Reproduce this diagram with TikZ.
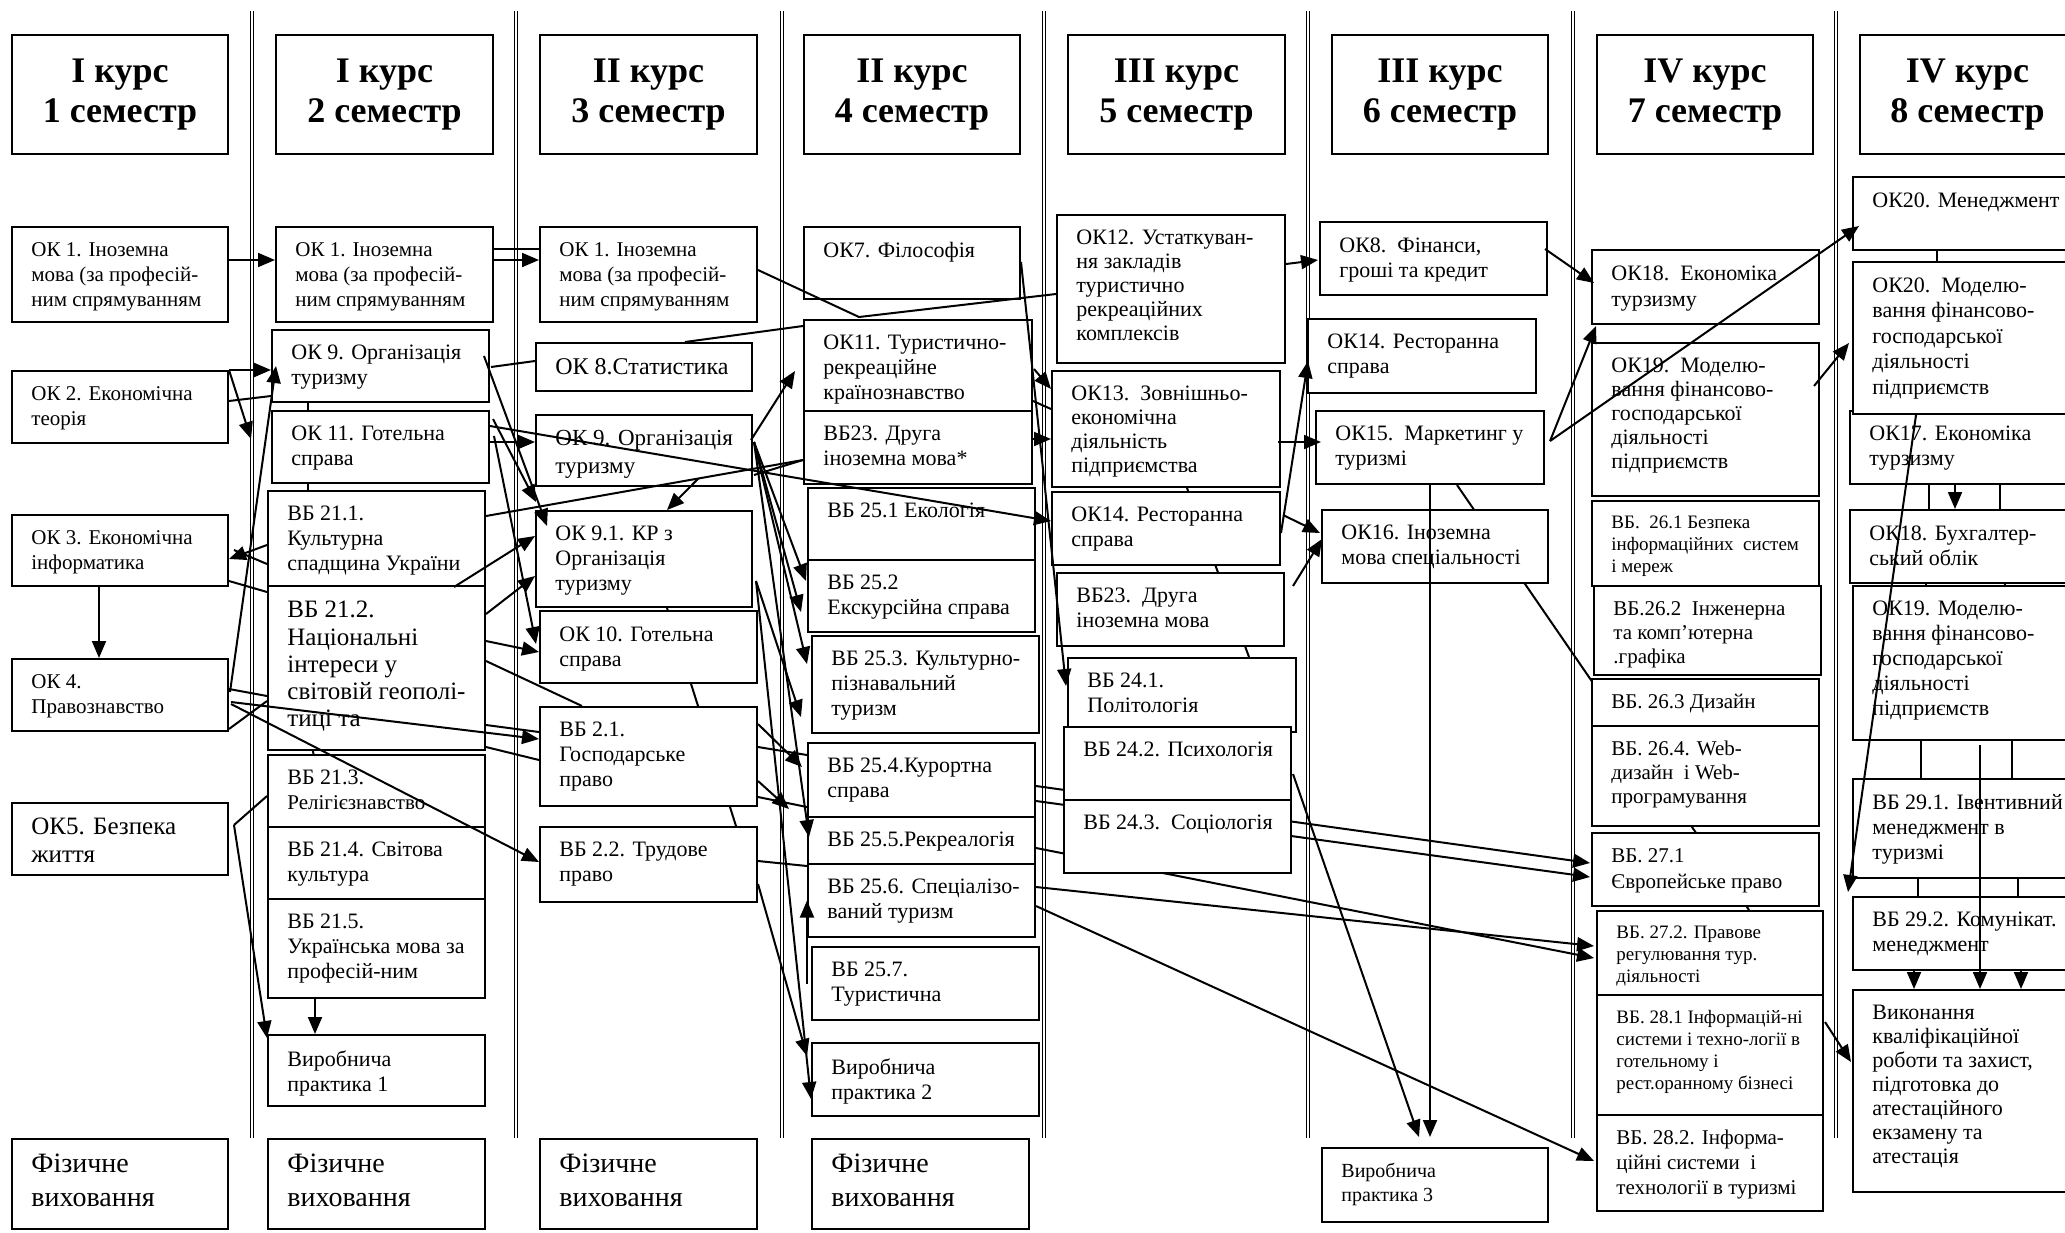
\documentclass[tikz,border=0pt]{standalone}
\usepackage{fontspec}
\setmainfont{Liberation Serif}
\usetikzlibrary{arrows.meta,fit,backgrounds}
\tikzset{
    box/.style = {
        draw,
        fill = white,
        line width = 1pt,
        inner sep = 0pt,
        },
    lbl/.style = {
        anchor = north west,
        inner sep = 0pt,
        align = left,
        font = \fontsize{11}{12.5}\selectfont,
        },
    hdr/.style = {
        align = center,
        inner sep = 0pt,
        font = \bfseries\fontsize{18}{20}\selectfont,
        },
    smalltxt/.style = {
        font = \fontsize{9.5}{11}\selectfont,
        },
    bigtxt/.style = {
        font = \fontsize{14}{17}\selectfont,
        },
    link/.style = {
        line width = 1pt,
        },
    arr/.style = {
        line width = 1pt,
        -{Triangle[length=8.5pt,width=7pt]},
        },
    divider/.style = {
        double,
        line width = 0.5pt,
        double distance = 0.8pt,
        },
}
\newcommand{\subjbox}[7]{%
    \node[box, fit={(#2,#3) (#4,#5)}] (#1) {};
    \node[lbl, #6] (#1-t) at ([shift={(20,16)}]#1.north west) {#7};
}
\newcommand{\headbox}[6]{%
    \node[box, fit={(#2,#3) (#4,#5)}] (#1) {};
    \node[hdr] (#1-t) at (#1.center) {#6};
}

\begin{document}
\begin{tikzpicture}[x=0.5pt, y=-0.5pt]
    \path[use as bounding box] (0,0) rectangle (2065,1232);

    \headbox{hd1}{12}{35}{228}{154}{I курс\\1 семестр}
    \headbox{hd2}{276}{35}{493}{154}{I курс\\2 семестр}
    \headbox{hd3}{540}{35}{757}{154}{II курс\\3 семестр}
    \headbox{hd4}{804}{35}{1020}{154}{II курс\\4 семестр}
    \headbox{hd5}{1068}{35}{1285}{154}{III курс\\5 семестр}
    \headbox{hd6}{1332}{35}{1548}{154}{III курс\\6 семестр}
    \headbox{hd7}{1597}{35}{1813}{154}{IV курс\\7 семестр}
    \headbox{hd8}{1860}{35}{2075}{154}{IV курс\\8 семестр}

    % 1 семестр
    \subjbox{c1ok1}{12}{227}{228}{322}{font=\fontsize{10.5}{12.5}\selectfont}{ОК 1. Іноземна\\мова (за професій-\\ним спрямуванням}
    \subjbox{c1ok2}{12}{371}{228}{443}{font=\fontsize{10.5}{12.5}\selectfont}{ОК 2. Економічна\\теорія}
    \subjbox{c1ok3}{12}{515}{228}{586}{font=\fontsize{10.5}{12.5}\selectfont}{ОК 3. Економічна\\інформатика}
    \subjbox{c1ok4}{12}{659}{228}{731}{font=\fontsize{10.5}{12.5}\selectfont}{ОК 4.\\{\fontsize{10.5}{12}\selectfont Правознавство}}
    \subjbox{c1ok5}{12}{803}{228}{875}{font=\fontsize{12.5}{14}\selectfont}{ОК5. Безпека\\життя}
    \subjbox{c1fz}{12}{1139}{228}{1229}{bigtxt}{Фізичне\\виховання}

    % 2 семестр
    \subjbox{c2ok1}{276}{227}{493}{322}{font=\fontsize{10.5}{12.5}\selectfont}{ОК 1. Іноземна\\мова (за професій-\\ним спрямуванням}
    \subjbox{c2ok9}{272}{330}{489}{402}{}{ОК 9. Організація\\туризму}
    \subjbox{c2ok11}{272}{411}{489}{483}{}{ОК 11. Готельна\\справа}
    \subjbox{c2v211}{268}{491}{485}{586}{}{ВБ 21.1.\\Культурна\\спадщина України}
    \subjbox{c2v212}{268}{586}{485}{750}{font=\fontsize{12.5}{13.6}\selectfont}{ВБ 21.2.\\Національні\\інтереси у\\світовій геополі-\\тиці та}
    \subjbox{c2v213}{268}{755}{485}{827}{}{ВБ 21.3.\\{\fontsize{10.5}{12}\selectfont Релігієзнавство}}
    \subjbox{c2v214}{268}{827}{485}{899}{}{ВБ 21.4. Світова\\культура}
    \subjbox{c2v215}{268}{899}{485}{998}{}{ВБ 21.5.\\Українська мова за\\професій-ним}
    \subjbox{c2vp1}{268}{1035}{485}{1106}{}{Виробнича\\практика 1}
    \subjbox{c2fz}{268}{1139}{485}{1229}{bigtxt}{Фізичне\\виховання}

    % 3 семестр
    \subjbox{c3ok1}{540}{227}{757}{322}{font=\fontsize{10.5}{12.5}\selectfont}{ОК 1. Іноземна\\мова (за професій-\\ним спрямуванням}
    \subjbox{c3ok8}{536}{343}{752}{391}{font=\fontsize{12}{14}\selectfont}{ОК 8.Статистика}
    \subjbox{c3ok9}{536}{415}{752}{486}{font=\fontsize{11.5}{14}\selectfont}{ОК 9. Організація\\туризму}
    \subjbox{c3ok91}{536}{511}{752}{607}{}{ОК 9.1. КР з\\Організація\\туризму}
    \subjbox{c3ok10}{540}{611}{757}{683}{}{ОК 10. Готельна\\справа}
    \subjbox{c3v21}{540}{707}{757}{806}{}{ВБ 2.1.\\Господарське\\право}
    \subjbox{c3v22}{540}{827}{757}{902}{}{ВБ 2.2. Трудове\\право}
    \subjbox{c3fz}{540}{1139}{757}{1229}{bigtxt}{Фізичне\\виховання}

    % 4 семестр
    \subjbox{c4ok7}{804}{227}{1020}{299}{}{ОК7. Філософія}
    \subjbox{c4ok11}{804}{320}{1032}{411}{}{ОК11. Туристично-\\рекреаційне\\країнознавство}
    \subjbox{c4v23}{804}{411}{1032}{484}{}{ВБ23. Друга\\іноземна мова*}
    \subjbox{c4v251}{808}{488}{1035}{560}{}{ВБ 25.1 Екологія}
    \subjbox{c4v252}{808}{560}{1035}{632}{}{ВБ 25.2\\Екскурсійна справа}
    \subjbox{c4v253}{812}{636}{1039}{733}{}{ВБ 25.3. Культурно-\\пізнавальний\\туризм}
    \subjbox{c4v254}{808}{743}{1035}{817}{}{ВБ 25.4.Курортна\\справа}
    \subjbox{c4v255}{808}{817}{1035}{864}{}{ВБ 25.5.Рекреалогія}
    \subjbox{c4v256}{808}{864}{1035}{937}{}{ВБ 25.6. Спеціалізо-\\ваний туризм}
    \subjbox{c4v257}{812}{947}{1039}{1020}{}{ВБ 25.7.\\Туристична}
    \subjbox{c4vp2}{812}{1043}{1039}{1116}{}{Виробнича\\практика 2}
    \subjbox{c4fz}{812}{1139}{1029}{1229}{bigtxt}{Фізичне\\виховання}

    % 5 семестр
    \subjbox{c5ok12}{1057}{215}{1285}{363}{font=\fontsize{11}{12}\selectfont}{ОК12. Устаткуван-\\ня закладів\\туристично\\рекреаційних\\комплексів}
    \subjbox{c5ok13}{1052}{371}{1280}{487}{font=\fontsize{11}{12}\selectfont}{ОК13.\ \ Зовнішньо-\\економічна\\діяльність\\підприємства}
    \subjbox{c5ok14}{1052}{492}{1280}{565}{}{ОК14. Ресторанна\\справа}
    \subjbox{c5v23}{1057}{573}{1284}{646}{}{ВБ23.\ \ Друга\\іноземна мова}
    \subjbox{c5v241}{1068}{658}{1296}{732}{}{ВБ 24.1.\\Політологія}
    \subjbox{c5v242}{1064}{727}{1291}{800}{}{ВБ 24.2. Психологія}
    \subjbox{c5v243}{1064}{800}{1291}{873}{}{ВБ 24.3.\ \ Соціологія}

    % 6 семестр
    \subjbox{c6ok8}{1320}{222}{1547}{295}{}{ОК8.\ \ Фінанси,\\гроші та кредит}
    \subjbox{c6ok14}{1308}{319}{1536}{393}{}{ОК14. Ресторанна\\справа}
    \subjbox{c6ok15}{1316}{411}{1544}{484}{}{ОК15.\ \ Маркетинг у\\туризмі}
    \subjbox{c6ok16}{1322}{510}{1548}{583}{}{ОК16. Іноземна\\мова спеціальності}
    \subjbox{c6vp3}{1322}{1148}{1548}{1222}{font=\fontsize{10}{12}\selectfont}{Виробнича\\практика 3}

    % 7 семестр
    \subjbox{c7ok18}{1592}{250}{1819}{324}{font=\fontsize{11}{13}\selectfont}{ОК18.\ \ Економіка\\турзизму}
    \subjbox{c7ok19}{1592}{343}{1819}{496}{font=\fontsize{11}{12}\selectfont}{ОК19.\ \ Моделю-\\вання фінансово-\\господарської\\діяльності\\підприємств}
    \subjbox{c7v261}{1592}{501}{1819}{586}{smalltxt}{ВБ.\ \ 26.1 Безпека\\інформаційних\ \ систем\\і мереж}
    \subjbox{c7v262}{1594}{586}{1821}{675}{font=\fontsize{10.5}{12}\selectfont}{ВБ.26.2\ \ Інженерна\\та комп’ютерна\\.графіка}
    \subjbox{c7v263}{1592}{679}{1819}{726}{font=\fontsize{10.5}{12}\selectfont}{ВБ. 26.3 Дизайн}
    \subjbox{c7v264}{1592}{726}{1819}{826}{font=\fontsize{10.5}{12}\selectfont}{ВБ. 26.4. Web-\\дизайн\ \ і Web-\\програмування}
    \subjbox{c7v271}{1592}{833}{1819}{906}{font=\fontsize{10.5}{13}\selectfont}{ВБ. 27.1\\Європейське право}
    \subjbox{c7v272}{1597}{911}{1823}{995}{smalltxt}{ВБ. 27.2. Правове\\регулювання тур.\\діяльності}
    \subjbox{c7v281}{1597}{995}{1823}{1115}{smalltxt}{ВБ. 28.1 Інформацій-ні\\системи і техно-логії в\\готельному і\\рест.оранному бізнесі}
    \subjbox{c7v282}{1597}{1115}{1823}{1211}{font=\fontsize{10.5}{12.5}\selectfont}{ВБ. 28.2. Інформа-\\ційні системи\ \ і\\технології в туризмі}

    % 8 семестр
    \subjbox{c8ok20a}{1853}{177}{2075}{250}{}{ОК20. Менеджмент}
    \subjbox{c8ok17}{1850}{411}{2075}{484}{}{ОК17. Економіка\\турзизму}
    \subjbox{c8ok20b}{1853}{262}{2075}{414}{font=\fontsize{11}{12.8}\selectfont}{ОК20.\ \ Моделю-\\вання фінансово-\\господарської\\діяльності\\підприємств}
    \subjbox{c8ok18}{1850}{510}{2075}{583}{}{ОК18. Бухгалтер-\\ський облік}
    \subjbox{c8ok19}{1853}{586}{2075}{740}{font=\fontsize{11}{12.5}\selectfont}{ОК19. Моделю-\\вання фінансово-\\господарської\\діяльності\\підприємств}
    \subjbox{c8v291}{1853}{779}{2075}{878}{}{ВБ 29.1. Івентивний\\менеджмент в\\туризмі}
    \subjbox{c8v292}{1853}{897}{2075}{970}{}{ВБ 29.2. Комунікат.\\менеджмент}
    \subjbox{c8fin}{1853}{990}{2075}{1192}{font=\fontsize{11}{12}\selectfont}{Виконання\\кваліфікаційної\\роботи та захист,\\підготовка до\\атестаційного\\екзамену та\\атестація}

    \begin{pgfonlayer}{background}
        \fill[white] (0,0) rectangle (2065,1232);
        \foreach \x in {252,516,782,1044,1308,1573,1836}
            \draw[divider] (\x,11) -- (\x,1138);
        \draw[link] ([shift={(37,-5)}]c2ok9.south west) -- ([shift={(41,10)}]c2v211.north west);
        \draw[link] ([shift={(45,-5)}]c2v212.south west) -- ([shift={(48,8)}]c2v213.north west);
        \draw[link] ([shift={(132,0)}]c3ok91.south west) -- ([shift={(197,0)}]c3v22.north west);
        \draw[link] ([shift={(136,0)}]c5ok13.south west) -- ([shift={(182,0)}]c5v241.north west);
        \draw[link] ([shift={(142,0)}]c6ok15.south west) -- ([shift={(153,0)}]c7v272.north west);
        \draw[arr] ([shift={(0,44)}]c4v254.north east) -- ([shift={(-1,31)}]c7v271.north west);
        \draw[arr] ([shift={(0,59)}]c4v254.north east) -- ([shift={(-1,45)}]c7v271.north west);
        \draw[arr] ([shift={(0,32)}]c4v255.north east) -- ([shift={(-2,48)}]c7v272.north west);
    \end{pgfonlayer}

    \coordinate (k5) at ([shift={(5,23)}]c1ok5.north east);
    \coordinate (f9) at ([shift={(1,28)}]c3ok9.north east);
    \coordinate (f91) at ([shift={(3,71)}]c3ok91.north east);
    \coordinate (q15) at ([shift={(5,31)}]c6ok15.north east);

    \draw[arr] ([shift={(0,34)}]c1ok1.north east) -- ([shift={(0,34)}]c2ok1.north west);
    \draw[link] ([shift={(0,23)}]c2ok1.north east) -- ([shift={(0,23)}]c3ok1.north west);
    \draw[arr] ([shift={(0,34)}]c2ok1.north east) -- ([shift={(0,34)}]c3ok1.north west);
    \draw[arr] (c1ok2.north east) -- (c2ok9.west |- c1ok2.north east);
    \draw[arr] (c1ok2.north east) -- ([shift={(-20,29)}]c2ok11.north west);
    \draw[link] ([shift={(0,31)}]c1ok2.north east) -- ([shift={(0,67)}]c2ok9.north west);
    \draw[arr] ([shift={(1,34)}]c1ok4.north east) -- ([shift={(5,37)}]c2ok9.north west);
    \draw[arr] ([shift={(0,55)}]c2v211.north west) -- ([shift={(0,45)}]c1ok3.north east);
    \draw[link] ([shift={(0,74)}]c2v211.north west) -- ([shift={(5,36)}]c1ok3.north east);
    \draw[link] ([shift={(0,67)}]c1ok3.north east) -- ([shift={(0,7)}]c2v212.north west);
    \draw[arr] ([shift={(-21,0)}]c1ok3.south) -- ([shift={(-21,0)}]c1ok4.north);
    \draw[link] ([shift={(0,31)}]c1ok4.north east) -- ([shift={(0,111)}]c2v212.north west);
    \draw[link] ([shift={(0,71)}]c1ok4.north east) -- ([shift={(0,116)}]c2v212.north west);
    \draw[arr] ([shift={(2,44)}]c1ok4.north east) -- ([shift={(0,33)}]c3v21.north west);
    \draw[arr] ([shift={(2,46)}]c1ok4.north east) -- ([shift={(0,36)}]c3v22.north west);
    \draw[link] (k5) -- ([shift={(0,42)}]c2v213.north west);
    \draw[arr] (k5) -- ([shift={(0,4)}]c2vp1.north west);
    \draw[arr] ([shift={(48,0)}]c2v215.south west) -- ([shift={(48,0)}]c2vp1.north west);

    \draw[link] ([shift={(1,38)}]c2ok9.north east) -- ([shift={(0,19)}]c3ok8.north west);
    \draw[link] ([shift={(150,0)}]c3ok8.north west) -- ([shift={(0,7)}]c4ok11.north west);
    \draw[arr] ([shift={(-6,27)}]c2ok9.north east) -- ([shift={(12,16)}]c3ok91.north west);
    \draw[arr] ([shift={(3,9)}]c2ok11.north east) -- ([shift={(1,-8)}]c3ok91.north west);
    \draw[arr] ([shift={(0,32)}]c2ok11.north east) -- ([shift={(0,28)}]c3ok9.north west);
    \draw[arr] ([shift={(4,26)}]c2ok11.north east) -- ([shift={(-3,34)}]c3ok10.north west);
    \draw[arr] ([shift={(0,16)}]c2ok11.north east) -- ([shift={(0,30)}]c5ok14.north west);
    \draw[link] ([shift={(0,26)}]c2v211.north east) -- coordinate[pos=0.67] (jn) ([shift={(0,50)}]c4v23.north west);
    \draw[arr] (jn) -- ([shift={(132,0)}]c3ok91.north west);
    \draw[arr] ([shift={(-32,0)}]c2v211.south east) -- ([shift={(0,26)}]c3ok91.north west);
    \draw[arr] ([shift={(0,29)}]c2v212.north east) -- ([shift={(0,66)}]c3ok91.north west);
    \draw[arr] ([shift={(0,56)}]c2v212.north east) -- ([shift={(0,42)}]c3ok10.north west);
    \draw[link] ([shift={(0,76)}]c2v212.north east) -- ([shift={(43,0)}]c3v21.north west);
    \draw[link] ([shift={(0,140)}]c2v212.north east) -- ([shift={(0,26)}]c3v21.north west);
    \draw[link] ([shift={(0,162)}]c2v212.north east) -- ([shift={(0,54)}]c3v21.north west);

    \draw[link] ([shift={(0,44)}]c3ok1.north east) -- ([shift={(56,-2)}]c4ok11.north west) -- ([shift={(0,80)}]c5ok12.north west);
    \draw[arr] ([shift={(-2,26)}]c3ok9.north east) -- ([shift={(-8,52)}]c4ok11.north west);
    \draw[link] ([shift={(1,61)}]c3ok9.north east) -- ([shift={(0,50)}]c4v23.north west);
    \draw[arr] (f9) -- ([shift={(-1,22)}]c4v252.north west);
    \draw[arr] (f9) -- ([shift={(-6,53)}]c4v252.north west);
    \draw[arr] (f9) -- ([shift={(-4,29)}]c4v253.north west);
    \draw[arr] (f9) -- ([shift={(2,21)}]c4v255.north west);
    \draw[arr] (f91) -- ([shift={(-10,82)}]c4v253.north west);
    \draw[arr] (f91) -- ([shift={(0,57)}]c4vp2.north west);
    \draw[arr] ([shift={(0,18)}]c3v21.north east) -- ([shift={(-5,25)}]c4v254.north west);
    \draw[arr] ([shift={(0,75)}]c3v21.north east) -- ([shift={(-18,67)}]c4v254.north west);
    \draw[link] ([shift={(0,41)}]c3v21.north east) -- ([shift={(0,13)}]c4v254.north west);
    \draw[link] ([shift={(0,91)}]c3v21.north east) -- ([shift={(0,65)}]c4v254.north west);
    \draw[link] ([shift={(0,35)}]c3v22.north east) -- ([shift={(0,3)}]c4v256.north west);
    \draw[arr] ([shift={(0,58)}]c3v22.north east) -- ([shift={(-4,14)}]c4vp2.north west);
    \draw[arr] (c4v256.west |- c4v257.west) -- (c4v256.west);

    \draw[arr] ([shift={(0,36)}]c4ok7.north east) -- ([shift={(-1,29)}]c5v241.north west);
    \draw[arr] ([shift={(1,50)}]c4ok11.north east) -- ([shift={(0,19)}]c5ok13.north west);
    \draw[link] ([shift={(0,82)}]c4ok11.north east) -- ([shift={(0,39)}]c5ok13.north west);
    \draw[arr] ([shift={(0,29)}]c4v23.north east) -- ([shift={(0,69)}]c5ok13.north west);
    \draw[arr] ([shift={(0,24)}]c4v256.north east) -- ([shift={(-2,36)}]c7v272.north west);
    \draw[arr] ([shift={(0,43)}]c4v256.north east) -- ([shift={(-2,47)}]c7v282.north west);

    \draw[arr] ([shift={(0,50)}]c5ok12.north east) -- ([shift={(-1,39)}]c6ok8.north west);
    \draw[arr] ([shift={(-3,72)}]c5ok13.north east) -- ([shift={(6,32)}]c6ok15.north west);
    \draw[arr] ([shift={(0,42)}]c5ok14.north east) -- ([shift={(1,43)}]c6ok14.north west);
    \draw[arr] ([shift={(2,24)}]c5ok14.north east) -- ([shift={(-1,24)}]c6ok16.north west);
    \draw[arr] ([shift={(8,14)}]c5v23.north east) -- ([shift={(1,30)}]c6ok16.north west);
    \draw[arr] ([shift={(1,48)}]c5v242.north east) -- ([shift={(98,-10)}]c6vp3.north west);
    \draw[arr] ([shift={(115,0)}]c6ok15.south west) -- ([shift={(109,-10)}]c6vp3.north west);

    \draw[arr] ([shift={(-3,28)}]c6ok8.north east) -- ([shift={(3,34)}]c7ok18.north west);
    \draw[arr] (q15) -- ([shift={(5,1)}]c7ok18.south west);
    \draw[arr] (q15) -- ([shift={(7,50)}]c8ok20a.north west);
    \draw[arr] ([shift={(-6,44)}]c7ok19.north east) -- ([shift={(-3,82)}]c8ok20b.north west);
    \draw[arr] ([shift={(1,28)}]c7v281.north east) -- ([shift={(-1,73)}]c8fin.north west);

    \draw[link] ([shift={(85,0)}]c8ok20a.south west) -- ([shift={(85,0)}]c8ok20b.north west);
    \draw[link] ([shift={(80,0)}]c8ok17.south west) -- ([shift={(80,0)}]c8ok18.north west);
    \draw[link] ([shift={(151,0)}]c8ok17.south west) -- ([shift={(151,0)}]c8ok18.north west);
    \draw[arr] ([shift={(106,0)}]c8ok17.south west) -- ([shift={(106,0)}]c8ok18.north west);
    \draw[link] ([shift={(77,0)}]c8ok18.south west) -- ([shift={(74,0)}]c8ok19.north west);
    \draw[link] ([shift={(156,0)}]c8ok18.south west) -- ([shift={(153,0)}]c8ok19.north west);
    \draw[link] ([shift={(69,0)}]c8ok19.south west) -- ([shift={(69,0)}]c8v291.north west);
    \draw[link] ([shift={(160,0)}]c8ok19.south west) -- ([shift={(160,0)}]c8v291.north west);
    \draw[link] ([shift={(66,0)}]c8v291.south west) -- ([shift={(66,0)}]c8v292.north west);
    \draw[link] ([shift={(166,0)}]c8v291.south west) -- ([shift={(166,0)}]c8v292.north west);
    \draw[arr] ([shift={(62,0)}]c8v292.south west) -- ([shift={(62,0)}]c8fin.north west);
    \draw[arr] ([shift={(169,0)}]c8v292.south west) -- ([shift={(169,0)}]c8fin.north west);
    \draw[arr] ([shift={(128,4)}]c8ok19.south west) -- ([shift={(128,0)}]c8fin.north west);
    \draw[arr] ([shift={(64,0)}]c8ok20b.south west) -- ([shift={(-4,-4)}]c8v292.north west);
\end{tikzpicture}
\end{document}
